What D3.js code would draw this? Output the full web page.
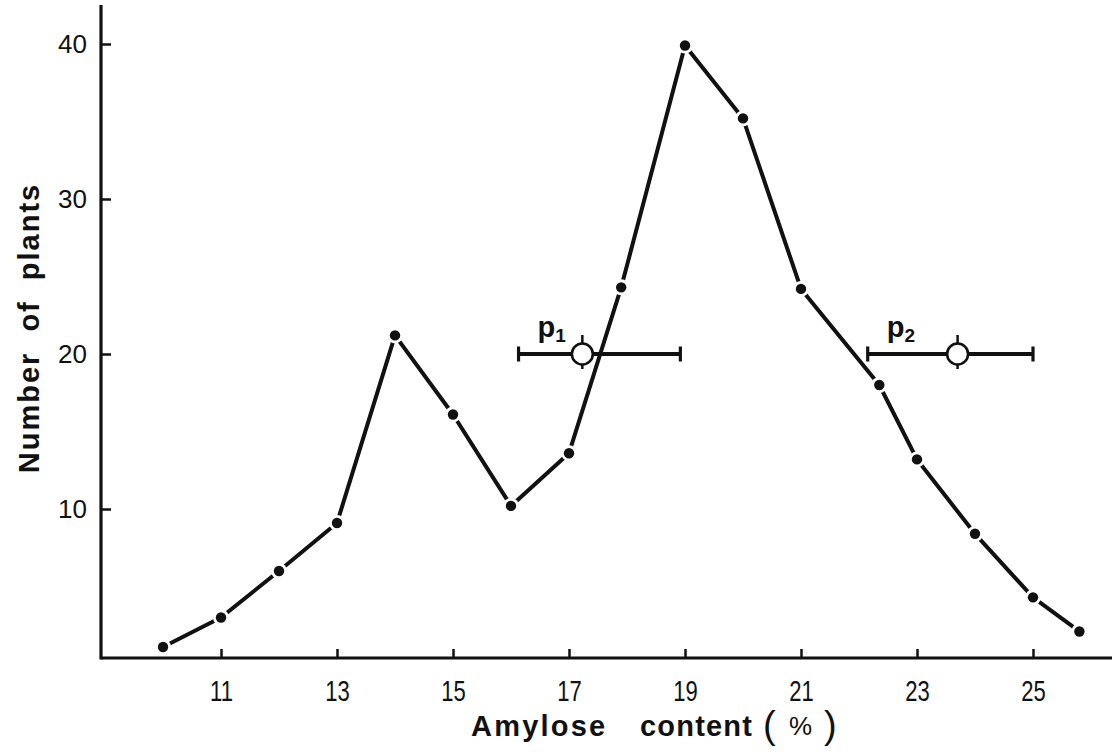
<!DOCTYPE html>
<html><head><meta charset="utf-8">
<script src="https://cdn.jsdelivr.net/npm/d3@7"></script>
<style>body{margin:0;background:#fff}</style>
</head><body><svg id="c" width="1112" height="752"></svg>
<script>
// ---- data ----
const amylose = [10, 11, 12, 13, 14, 15, 16, 17, 17.9, 19, 20, 21, 22.35, 23, 24, 25, 25.8];
const plants  = [1.1, 3, 6, 9.1, 21.2, 16.1, 10.2, 13.6, 24.3, 39.9, 35.2, 24.2, 18, 13.2, 8.4, 4.3, 2.1];
const xTicks = [11, 13, 15, 17, 19, 21, 23, 25];
const yTicks = [10, 20, 30, 40];
const parentNames = ["1", "2"];
const parentMean  = [17.23, 23.7];
const parentLow   = [16.13, 22.15];
const parentHigh  = [18.92, 25.0];
const parentLevel = [20, 20];

// ---- drawing ----
const svg = d3.select("#c");
const x = d3.scaleLinear().domain([10, 25]).range([163, 1033]);
const y = d3.scaleLinear().domain([0, 40]).range([664, 44]);
const axisY = 658, axisX = 101;
const ink = "#111";
const sans = "'Liberation Sans', Arial, Helvetica, sans-serif";

// axis lines
svg.append("line").attr("x1", axisX).attr("x2", 1112).attr("y1", axisY).attr("y2", axisY)
  .attr("stroke", ink).attr("stroke-width", 3.2);
svg.append("line").attr("x1", axisX).attr("x2", axisX).attr("y1", 5).attr("y2", axisY + 1.6)
  .attr("stroke", ink).attr("stroke-width", 3.2);

const gx = svg.append("g").attr("transform", `translate(0,${axisY})`)
  .call(d3.axisBottom(x).tickValues(xTicks).tickSize(-9).tickPadding(22).tickFormat(d => d));
gx.select(".domain").remove();
gx.selectAll(".tick line").attr("stroke", ink).attr("stroke-width", 2.5);
gx.selectAll(".tick text").attr("fill", ink)
  .attr("transform", "scale(0.76,1)")
  .style("font-family", sans)
  .style("font-size", "29px");

const gy = svg.append("g").attr("transform", `translate(${axisX},0)`)
  .call(d3.axisLeft(y).tickValues(yTicks).tickSize(-10).tickPadding(14).tickFormat(d => d));
gy.select(".domain").remove();
gy.selectAll(".tick line").attr("stroke", ink).attr("stroke-width", 2.5);
gy.selectAll(".tick text").attr("fill", ink)
  .style("font-family", sans)
  .style("font-size", "26px");

// axis titles
svg.append("text").attr("transform", "translate(39,328) rotate(-90)")
  .attr("text-anchor", "middle").attr("fill", ink)
  .style("font-family", sans)
  .style("font-size", "29px").style("font-weight", "bold").style("letter-spacing", "2px")
  .style("word-spacing", "10px")
  .text("Number of plants");

const xt = svg.append("text").attr("y", 736).attr("fill", ink)
  .style("font-family", sans).style("font-size", "29px");
xt.append("tspan").attr("x", 471).style("font-weight", "bold").style("letter-spacing", "2.2px").text("Amylose");
xt.append("tspan").attr("x", 640).style("font-weight", "bold").style("letter-spacing", "1.2px").text("content");
xt.append("tspan").attr("x", 763).attr("dy", 2).style("font-size", "38px").style("font-weight", "300").text("(");
xt.append("tspan").attr("x", 789).attr("dy", -3).style("font-size", "26px").text("%");
xt.append("tspan").attr("x", 824).attr("dy", 3).style("font-size", "38px").style("font-weight", "300").text(")");

// parent error bars
const pg = svg.append("g");
parentMean.forEach((m, i) => {
  const cy = y(parentLevel[i]);
  const g = pg.append("g");
  g.append("line").attr("x1", x(parentLow[i])).attr("x2", x(parentHigh[i])).attr("y1", cy).attr("y2", cy)
    .attr("stroke", ink).attr("stroke-width", 4);
  [parentLow[i], parentHigh[i]].forEach(v => {
    g.append("line").attr("x1", x(v)).attr("x2", x(v)).attr("y1", cy - 7.5).attr("y2", cy + 7.5)
      .attr("stroke", ink).attr("stroke-width", 3.2);
  });
  g.append("line").attr("x1", x(m)).attr("x2", x(m)).attr("y1", cy - 19).attr("y2", cy + 15)
    .attr("stroke", ink).attr("stroke-width", 2.5);
  g.append("circle").attr("cx", x(m)).attr("cy", cy).attr("r", 10.5)
    .attr("fill", "#fff").attr("stroke", ink).attr("stroke-width", 2.6);
  const t = g.append("text").attr("x", x(parentLow[i]) + 19).attr("y", cy - 17).attr("fill", ink)
    .style("font-family", sans).style("font-size", "29px").style("font-weight", "bold");
  t.append("tspan").text("p");
  t.append("tspan").attr("dy", 5).style("font-size", "19px").text(parentNames[i]);
});

// data line
const pts = amylose.map((a, i) => [a, plants[i]]);
svg.append("path").datum(pts)
  .attr("d", d3.line().x(d => x(d[0])).y(d => y(d[1])))
  .attr("fill", "none").attr("stroke", ink).attr("stroke-width", 4).attr("stroke-linejoin", "round");
svg.append("g").selectAll("circle").data(pts).join("circle")
  .attr("cx", d => x(d[0])).attr("cy", d => y(d[1])).attr("r", 8).attr("fill", "#fff");
svg.append("g").selectAll("circle").data(pts).join("circle")
  .attr("cx", d => x(d[0])).attr("cy", d => y(d[1])).attr("r", 5.2).attr("fill", ink);
</script></body></html>
